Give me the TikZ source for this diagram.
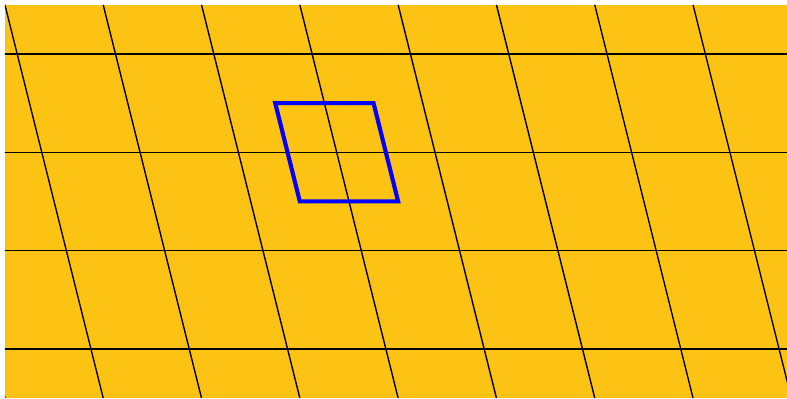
\documentclass[tikz,border=0pt]{standalone}
\definecolor{latticebg}{RGB}{253,195,20}
\begin{document}
\begin{tikzpicture}

  \useasboundingbox (0,0) rectangle (8.006,4.049);
  \fill[latticebg] (0.05,0) rectangle (8.006,4);

  \begin{scope}
  \clip (0.05,0) rectangle (8.006,4);

  \foreach \y in {0.5, 1.5, 2.5, 3.5}
  \draw[] (0,\y) -- (8.1,\y);

  \foreach \k in {-1,...,7}
  \draw[] (\k+0.05,4) -- (\k+1.05,0);
  \end{scope}

  \coordinate (p1) at (2.8,3);
  \coordinate (p2) at (3.8,3);
  \coordinate (p3) at (4.05,2);
  \coordinate (p4) at (3.05,2);
  \draw[blue, line width=1.2pt] (p1) -- (p2) -- (p3) -- (p4) -- cycle;

\end{tikzpicture}
\end{document}
